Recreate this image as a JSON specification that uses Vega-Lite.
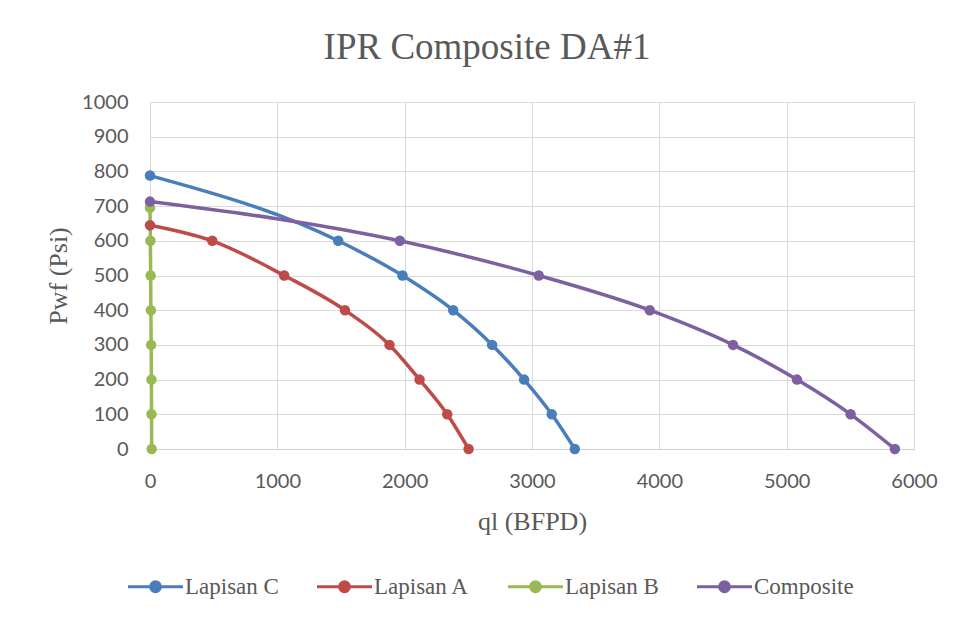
{
  "$schema": "https://vega.github.io/schema/vega-lite/v6.json",
  "autosize": {"type": "none"},
  "width": 764,
  "height": 347,
  "padding": {"left": 150, "top": 102, "right": 44, "bottom": 172},
  "background": "white",
  "title": {
    "text": "IPR Composite DA#1",
    "font": "Liberation Serif",
    "fontSize": 37,
    "fontWeight": "normal",
    "color": "#595959",
    "anchor": "middle",
    "dx": -45,
    "baseline": "alphabetic",
    "offset": -4
  },
  "data": {
    "values": [
      {"series": "Lapisan C", "q": 0, "pwf": 788},
      {"series": "Lapisan C", "q": 1478, "pwf": 600},
      {"series": "Lapisan C", "q": 1983, "pwf": 500},
      {"series": "Lapisan C", "q": 2381, "pwf": 400},
      {"series": "Lapisan C", "q": 2687, "pwf": 300},
      {"series": "Lapisan C", "q": 2938, "pwf": 200},
      {"series": "Lapisan C", "q": 3155, "pwf": 100},
      {"series": "Lapisan C", "q": 3336, "pwf": 0},
      {"series": "Lapisan A", "q": 0, "pwf": 645},
      {"series": "Lapisan A", "q": 489, "pwf": 600},
      {"series": "Lapisan A", "q": 1054, "pwf": 500},
      {"series": "Lapisan A", "q": 1531, "pwf": 400},
      {"series": "Lapisan A", "q": 1881, "pwf": 300},
      {"series": "Lapisan A", "q": 2117, "pwf": 200},
      {"series": "Lapisan A", "q": 2334, "pwf": 100},
      {"series": "Lapisan A", "q": 2502, "pwf": 0},
      {"series": "Lapisan B", "q": 0, "pwf": 695},
      {"series": "Lapisan B", "q": 3, "pwf": 600},
      {"series": "Lapisan B", "q": 5, "pwf": 500},
      {"series": "Lapisan B", "q": 7, "pwf": 400},
      {"series": "Lapisan B", "q": 9, "pwf": 300},
      {"series": "Lapisan B", "q": 11, "pwf": 200},
      {"series": "Lapisan B", "q": 12, "pwf": 100},
      {"series": "Lapisan B", "q": 13, "pwf": 0},
      {"series": "Composite", "q": 0, "pwf": 713},
      {"series": "Composite", "q": 1962, "pwf": 600},
      {"series": "Composite", "q": 3053, "pwf": 500},
      {"series": "Composite", "q": 3925, "pwf": 400},
      {"series": "Composite", "q": 4579, "pwf": 300},
      {"series": "Composite", "q": 5081, "pwf": 200},
      {"series": "Composite", "q": 5502, "pwf": 100},
      {"series": "Composite", "q": 5850, "pwf": 0}
    ]
  },
  "mark": {
    "type": "line",
    "interpolate": "monotone",
    "strokeWidth": 3.5,
    "point": {"filled": true, "size": 110, "opacity": 1}
  },
  "encoding": {
    "x": {
      "field": "q",
      "type": "quantitative",
      "scale": {"domain": [0, 6000], "nice": false},
      "axis": {
        "title": "ql (BFPD)",
        "values": [0, 1000, 2000, 3000, 4000, 5000, 6000],
        "format": "d",
        "ticks": false,
        "labelPadding": 22,
        "labelFont": "Lato",
        "labelFontSize": 20,
        "labelColor": "#595959",
        "titleFont": "Liberation Serif",
        "titleFontSize": 26,
        "titleFontWeight": "normal",
        "titleColor": "#595959",
        "titlePadding": 17,
        "domainColor": "#d0d0d0",
        "gridColor": "#d9d9d9",
        "labelFlush": false
      }
    },
    "y": {
      "field": "pwf",
      "type": "quantitative",
      "scale": {"domain": [0, 1000], "nice": false},
      "axis": {
        "title": "Pwf (Psi)",
        "values": [0, 100, 200, 300, 400, 500, 600, 700, 800, 900, 1000],
        "format": "d",
        "ticks": false,
        "domain": false,
        "labelPadding": 22,
        "labelFont": "Lato",
        "labelFontSize": 20,
        "labelColor": "#595959",
        "titleFont": "Liberation Serif",
        "titleFontSize": 26,
        "titleFontWeight": "normal",
        "titleColor": "#595959",
        "titlePadding": 10,
        "gridColor": "#d9d9d9",
        "labelFlush": false
      }
    },
    "color": {
      "field": "series",
      "type": "nominal",
      "sort": ["Lapisan C", "Lapisan A", "Lapisan B", "Composite"],
      "scale": {
        "domain": ["Lapisan C", "Lapisan A", "Lapisan B", "Composite"],
        "range": ["#4A7EBB", "#BE4B48", "#98B954", "#7D60A0"]
      },
      "legend": {
        "title": null,
        "orient": "none",
        "direction": "horizontal",
        "legendX": -7,
        "legendY": 472,
        "columns": 4,
        "columnPadding": 32,
        "symbolType": "M-2.5,0H2.5M-0.45,0A0.45,0.45 0 1,1 0.45,0A0.45,0.45 0 1,1 -0.45,0Z",
        "symbolSize": 484,
        "symbolStrokeWidth": 3,
        "labelOffset": 17,
        "labelFont": "Liberation Serif",
        "labelFontSize": 23,
        "labelColor": "#595959",
        "labelLimit": 200,
        "encode": {
          "symbols": {
            "update": {
              "fill": {"scale": "color", "field": "value"},
              "stroke": {"scale": "color", "field": "value"},
              "strokeWidth": {"value": 3},
              "opacity": {"value": 1}
            }
          }
        }
      }
    },
    "order": {"field": "q", "type": "quantitative"}
  },
  "config": {
    "view": {"stroke": null},
    "axis": {"gridWidth": 1}
  }
}
